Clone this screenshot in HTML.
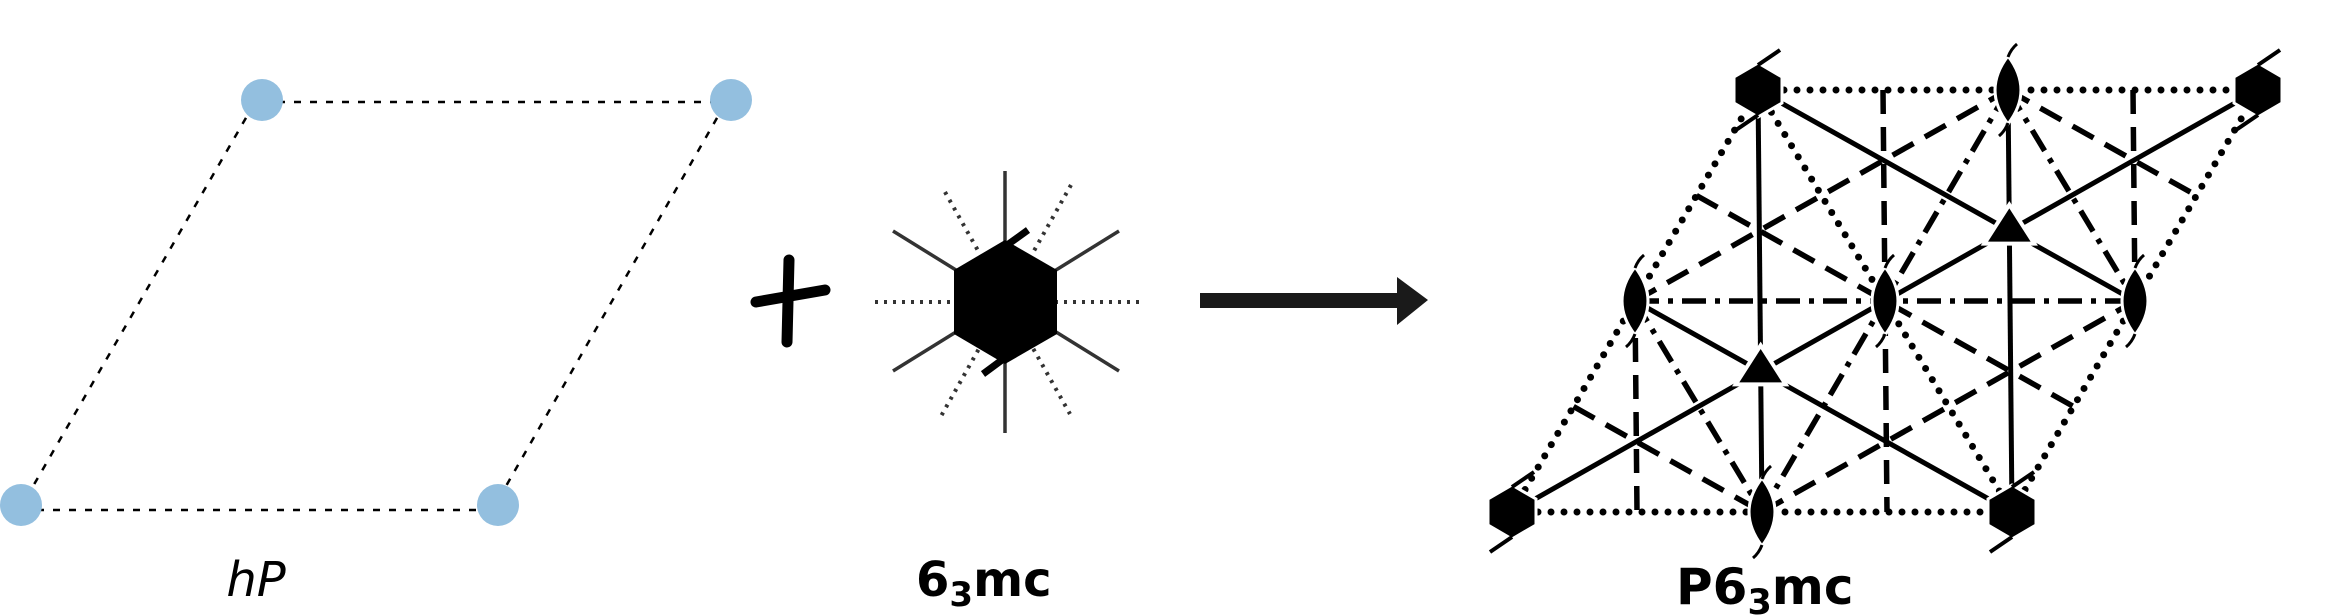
<!DOCTYPE html>
<html><head><meta charset="utf-8">
<style>
html,body{margin:0;padding:0;background:#fff;}
svg{display:block;}
text{font-family:"DejaVu Sans","Liberation Sans",sans-serif;}
</style></head>
<body>
<svg id="fig" width="2327" height="615" viewBox="0 0 2327 615" xmlns="http://www.w3.org/2000/svg">
  <g stroke="#000" stroke-width="2.5" stroke-dasharray="7 9" fill="none">
    <line x1="262" y1="102" x2="731" y2="102"/>
    <line x1="21" y1="510" x2="498" y2="510"/>
    <line x1="254" y1="104" x2="21" y2="507"/>
    <line x1="725" y1="104" x2="494" y2="507"/>
  </g>
  <g fill="#93bfdf">
    <circle cx="262" cy="100" r="21"/>
    <circle cx="731" cy="100" r="21"/>
    <circle cx="21" cy="505" r="21"/>
    <circle cx="498" cy="505" r="21"/>
  </g>
  <text x="256" y="596" font-size="48" font-style="italic" text-anchor="middle">hP</text>

  <g stroke="#000" stroke-width="11" stroke-linecap="round">
    <line x1="789" y1="260" x2="787" y2="342"/>
    <line x1="756" y1="302" x2="825" y2="290"/>
  </g>

  <g>
    <g stroke="#333" stroke-width="3.5">
      <line x1="1005" y1="171" x2="1005" y2="433"/>
      <line x1="893" y1="231" x2="1119" y2="371"/>
      <line x1="1119" y1="231" x2="893" y2="371"/>
    </g>
    <g stroke="#333" stroke-width="4" stroke-dasharray="3 6">
      <line x1="875" y1="302" x2="1140" y2="302"/>
      <line x1="945" y1="192" x2="1070" y2="414"/>
      <line x1="1071" y1="185" x2="940" y2="418"/>
    </g>
    <polygon points="1005,240 1057,270 1057,334 1005,364 954,334 954,270" fill="#000"/>
    <g stroke="#000" stroke-width="7">
      <line x1="1003" y1="248" x2="1028" y2="230"/>
      <line x1="983" y1="374" x2="1006" y2="357"/>
    </g>
  </g>
  <text x="916" y="596" font-size="48" font-weight="bold">6<tspan font-size="34" dy="10">3</tspan><tspan dy="-10">mc</tspan></text>

  <g fill="#1a1a1a">
    <rect x="1200" y="293" width="205" height="15"/>
    <polygon points="1397,277 1428,300 1397,325"/>
  </g>

  <g id="sg"></g>
  <text x="1676" y="604" font-size="50" font-weight="bold">P6<tspan font-size="35" dy="10">3</tspan><tspan dy="-10">mc</tspan></text>
</svg>
<script>
const NS = "http://www.w3.org/2000/svg";
const O = [1512, 512], A = [500, 0], B = [246, -422];
function p(u, v) { return [O[0] + u * A[0] + v * B[0], O[1] + u * A[1] + v * B[1]]; }
const g = document.getElementById('sg');
const styles = {
  solid: { w: 5, d: null },
  dashed: { w: 5.5, d: "24 13" },
  dotted: { w: 7, d: "0 13" },
  dashdot: { w: 5.5, d: "24 9 5 9" }
};
const lines = [
  ['dotted', [0,0],[1,0]], ['dotted', [0,1],[1,1]], ['dotted', [0,0],[0,1]], ['dotted', [1,0],[1,1]],
  ['dotted', [0,1],[1,0]],
  ['solid', [0,1],[1,0.5]], ['solid', [0,0.5],[1,0]], ['solid', [0,0],[1,1]],
  ['solid', [0,1],[0.5,0]], ['solid', [0.5,1],[1,0]],
  ['dashed', [0.25,1],[0.75,0]], ['dashed', [0,0.5],[0.25,0]], ['dashed', [0.75,1],[1,0.5]],
  ['dashed', [0,0.5],[0.5,1]], ['dashed', [0.5,0],[1,0.5]],
  ['dashed', [0,0.75],[1,0.25]], ['dashed', [0.5,1],[1,0.75]], ['dashed', [0,0.25],[0.5,0]],
  ['dashdot', [0,0.5],[1,0.5]], ['dashdot', [0.5,1],[0.5,0]],
  ['dashdot', [0.5,1],[1,0.5]], ['dashdot', [0,0.5],[0.5,0]]
];
lines.forEach(function (l) {
  const s = styles[l[0]], a = p(l[1][0], l[1][1]), b = p(l[2][0], l[2][1]);
  const ln = document.createElementNS(NS, 'line');
  
  
  ln.setAttribute('x1', a[0]); ln.setAttribute('y1', a[1]);
  ln.setAttribute('x2', b[0]); ln.setAttribute('y2', b[1]);
  ln.setAttribute('stroke', '#000'); ln.setAttribute('stroke-width', s.w);
  if (s.d) ln.setAttribute('stroke-dasharray', s.d);
  if (l[0] === 'dotted') ln.setAttribute('stroke-linecap', 'round');
  g.appendChild(ln);
});
function add(tag, attrs, name) {
  const e = document.createElementNS(NS, tag);
  for (const k in attrs) e.setAttribute(k, attrs[k]);
  
  
  g.appendChild(e); return e;
}
// hexagons (6_3 axes)
[[0,0],[1,0],[0,1],[1,1]].forEach(function (q) {
  const c = p(q[0], q[1]), x = c[0], y = c[1];
  add('polygon', { points: [x, y-27, x+24, y-13, x+24, y+13, x, y+27, x-24, y+13, x-24, y-13].join(','), fill: '#000', stroke: '#fff', 'stroke-width': 3 }, 'sixfold-screw-axis');
  add('path', { d: 'M' + x + ' ' + (y-25) + ' L' + (x+22) + ' ' + (y-40) + ' M' + x + ' ' + (y+25) + ' L' + (x-22) + ' ' + (y+40), stroke: '#000', 'stroke-width': 4, fill: 'none' }, 'screw-axis-tail');
});
// 2_1 lenses
[[0.5,0],[0.5,1],[0,0.5],[1,0.5],[0.5,0.5]].forEach(function (q) {
  const c = p(q[0], q[1]), x = c[0], y = c[1];
  add('path', { d: 'M' + x + ' ' + (y-34) + ' Q' + (x+26) + ' ' + y + ' ' + x + ' ' + (y+34) + ' Q' + (x-26) + ' ' + y + ' ' + x + ' ' + (y-34) + ' Z', fill: '#000', stroke: '#fff', 'stroke-width': 3 }, 'twofold-screw-axis');
  add('path', { d: 'M' + x + ' ' + (y-33) + ' q3 -8 9 -13 M' + x + ' ' + (y+33) + ' q-3 8 -9 13', stroke: '#000', 'stroke-width': 3, fill: 'none' }, 'screw-axis-tail');
});
// triangles (3-fold)
[[1/3,1/3],[2/3,2/3]].forEach(function (q) {
  const c = p(q[0], q[1]), x = c[0], y = c[1] - 6;
  add('polygon', { points: [x, y-20, x+25, y+19, x-25, y+19].join(','), fill: '#000', stroke: '#fff', 'stroke-width': 4 }, 'threefold-axis');
});
</script>
</body></html>
